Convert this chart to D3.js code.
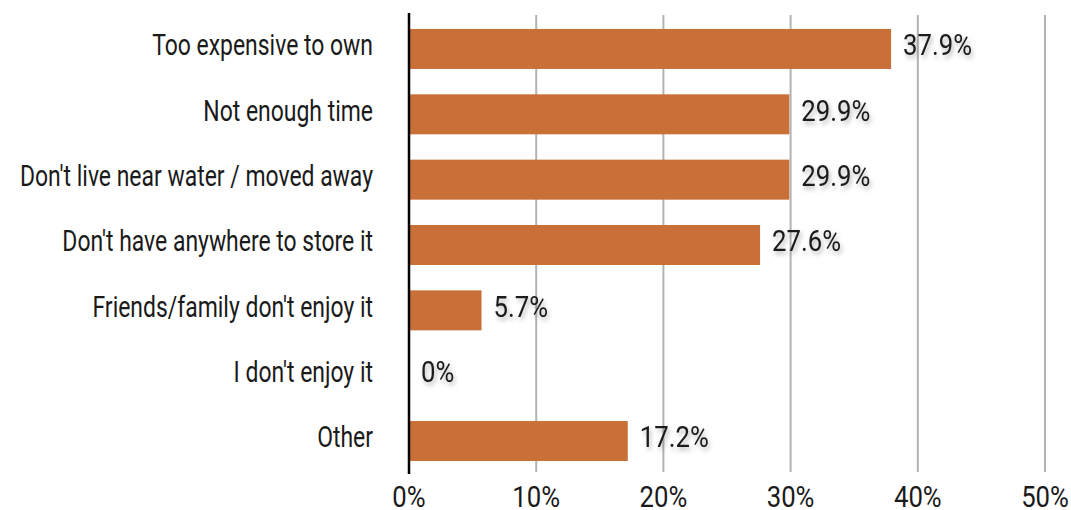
<!DOCTYPE html>
<html><head><meta charset="utf-8">
<script src="https://cdn.jsdelivr.net/npm/d3@7"></script>
<style>
html,body{margin:0;padding:0;background:#fff;}
svg text{font-family:Roboto,"Liberation Sans",sans-serif;font-weight:400;fill:#1a1a1a;}
</style></head>
<body>
<svg id="chart" width="1071" height="510"></svg>
<script>
const categories = ["Too expensive to own","Not enough time","Don't live near water / moved away","Don't have anywhere to store it","Friends/family don't enjoy it","I don't enjoy it","Other"];
const values = [37.9, 29.9, 29.9, 27.6, 5.7, 0, 17.2];
const valueLabels = ["37.9%","29.9%","29.9%","27.6%","5.7%","0%","17.2%"];
const tickValues = [0,10,20,30,40,50];
const tickLabels = ["0%","10%","20%","30%","40%","50%"];

const svg = d3.select("#chart");
const x = d3.scaleLinear().domain([0,50]).range([409,1045]);
const y = d3.scaleBand().domain(categories).range([16.3,473.7]).paddingInner(0.388).paddingOuter(0.194);

const defs = svg.append("defs");
const f = defs.append("filter").attr("id","sh").attr("x","-20%").attr("y","-30%").attr("width","150%").attr("height","180%");
f.append("feDropShadow").attr("dx",2).attr("dy",3).attr("stdDeviation",2.5).attr("flood-color","#000").attr("flood-opacity",0.3);

const FS = 29.5;

// gridlines
svg.append("g").selectAll("line").data(tickValues.filter(d=>d>0)).join("line")
  .attr("x1",d=>x(d)).attr("x2",d=>x(d)).attr("y1",15).attr("y2",472)
  .attr("stroke","#b3b3b3").attr("stroke-width",2);

// bars
svg.append("g").selectAll("rect").data(categories).join("rect")
  .attr("x",x(0)).attr("y",d=>y(d))
  .attr("width",(d,i)=>x(values[i])-x(0)).attr("height",y.bandwidth())
  .attr("fill","#C96F38");

// zero axis line
svg.append("line").attr("x1",x(0)).attr("x2",x(0)).attr("y1",13).attr("y2",474)
  .attr("stroke","#000").attr("stroke-width",2.5);

// category labels
const cat = svg.append("g").selectAll("text").data(categories).join("text")
  .attr("x",x(0)-36).attr("y",d=>y(d)+y.bandwidth()/2+6.3)
  .attr("text-anchor","end").attr("font-size",FS)
  .text(d=>d);

// value labels
const val = svg.append("g").selectAll("text").data(categories).join("text")
  .attr("x",(d,i)=>x(values[i])+12).attr("y",d=>y(d)+y.bandwidth()/2+6.3)
  .attr("font-size",FS).attr("filter","url(#sh)")
  .text((d,i)=>valueLabels[i]);

// x tick labels
const tk = svg.append("g").selectAll("text").data(tickValues).join("text")
  .attr("x",d=>x(d)).attr("y",507)
  .attr("text-anchor","middle").attr("font-size",FS)
  .text((d,i)=>tickLabels[i]);

// condense text horizontally to match the narrow typeface
const kc = 221 / cat.filter((d,i)=>i===0).node().getComputedTextLength();
const kn = 69 / val.filter((d,i)=>i===0).node().getComputedTextLength();
function squeeze(sel,k){
  sel.each(function(){
    const t = d3.select(this);
    const ax = +t.attr("x");
    t.attr("transform",`translate(${ax},0) scale(${k},1) translate(${-ax},0)`);
  });
}
squeeze(cat,kc); squeeze(val,kn); squeeze(tk,kn);
</script>
</body></html>
